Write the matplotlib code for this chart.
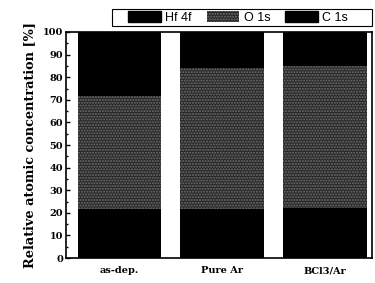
import matplotlib
matplotlib.use("Agg")
import matplotlib.pyplot as plt
from matplotlib.patches import Patch, Rectangle
from matplotlib.ticker import MultipleLocator

categories = ["as-dep.", "Pure Ar", "BCl3/Ar"]
hf_4f = [21.5, 21.5, 22.0]
o_1s = [50.0, 62.5, 63.0]
c_1s = [28.5, 16.0, 15.0]

fig = plt.figure(figsize=(3.75, 2.83), dpi=100)
ax = fig.add_axes([0.176, 0.088, 0.816, 0.799])

x = range(len(categories))
w = 0.815
o_style = dict(facecolor="#262626", hatch="......", edgecolor="#707070", linewidth=0)

ax.bar(x, hf_4f, w, color="black", linewidth=0)
ax.bar(x, o_1s, w, bottom=hf_4f, **o_style)
bottoms = [a + b for a, b in zip(hf_4f, o_1s)]
ax.bar(x, c_1s, w, bottom=bottoms, color="black", linewidth=0)

ax.set_xlim(-0.52, 2.46)
ax.set_ylim(0, 100)
ax.yaxis.set_major_locator(MultipleLocator(10))
ax.yaxis.set_minor_locator(MultipleLocator(5))
ax.tick_params(axis="y", which="both", direction="in", labelsize=7, width=1, pad=2)
ax.tick_params(axis="y", which="major", length=3)
ax.tick_params(axis="y", which="minor", length=1.5)
ax.tick_params(axis="x", length=0, labelsize=7, pad=6)
ax.set_xticks(list(x))
ax.set_xticklabels(categories)
for lab in ax.get_xticklabels() + ax.get_yticklabels():
    lab.set_family("DejaVu Serif")
    lab.set_fontweight("bold")
for s in ax.spines.values():
    s.set_linewidth(1.2)

ax.set_ylabel("Relative atomic concentration [%]", family="DejaVu Serif",
              fontweight="bold", fontsize=9.3, labelpad=5)

handles = [Patch(facecolor="black", edgecolor="black", label="Hf 4f"),
           Patch(label="O 1s", **o_style),
           Patch(facecolor="black", edgecolor="black", label="C 1s")]
leg = fig.legend(handles=handles, ncol=3, loc="center",
                 bbox_to_anchor=(0.635, 0.938),
                 prop={"family": "Liberation Sans", "size": 9}, frameon=False,
                 handlelength=2.6, handleheight=1.0, handletextpad=0.35,
                 borderpad=0, columnspacing=1.2, borderaxespad=0)
# legend frame, a bit wider than the entries like in the original
fig.patches.append(Rectangle((0.299, 0.908), 0.693, 0.06, transform=fig.transFigure,
                             fill=False, edgecolor="black", linewidth=0.8))

fig.savefig("out.png", dpi=100)
